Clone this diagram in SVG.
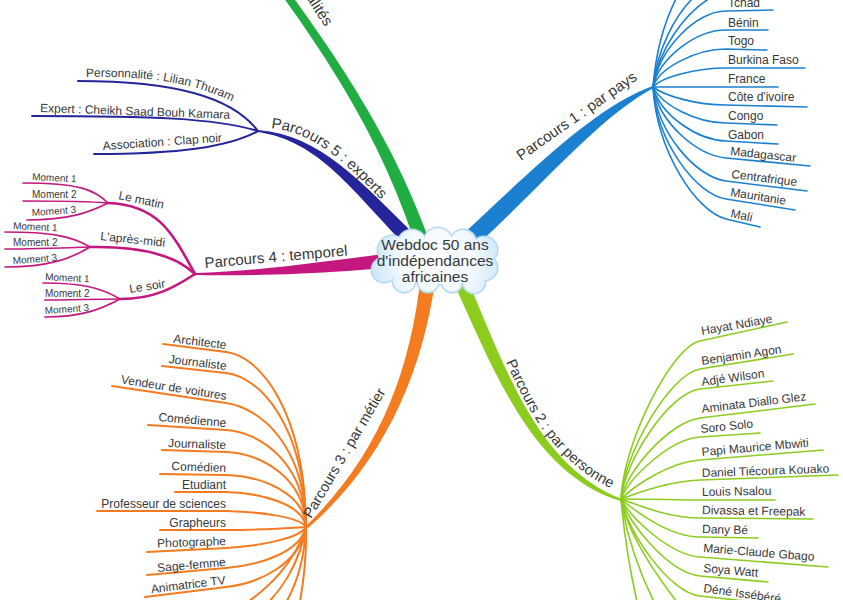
<svg xmlns="http://www.w3.org/2000/svg" width="843" height="600" viewBox="0 0 843 600">
<style>
.t{font-family:"Liberation Sans",Arial,sans-serif;fill:#383838}
.lf{font-size:12px}
.mo{font-size:10px}
.br{font-size:15px}
.ct{font-size:15.5px;text-anchor:middle}
.e{text-anchor:end}
.l{fill:none;stroke-linecap:round}
.lo{stroke:#f47b20;stroke-width:2}
.lg{stroke:#8ccc1f;stroke-width:1.6}
.lb{stroke:#1b80d0;stroke-width:1.6}
.lm{stroke:#c4177f;stroke-width:1.7}
.lms{stroke:#c4177f;stroke-width:2.6}
.ld{stroke:#25259b;stroke-width:2}
</style>
<defs>
<radialGradient id="cg" gradientUnits="userSpaceOnUse" cx="437" cy="262" r="68">
<stop offset="0" stop-color="#ffffff"/><stop offset="0.55" stop-color="#f2f9fe"/><stop offset="1" stop-color="#c9e4f7"/>
</radialGradient>
<g id="cs">
<ellipse cx="437" cy="262" rx="52" ry="22"/>
<circle cx="392" cy="250" r="14"/><circle cx="412" cy="244" r="14"/><circle cx="438" cy="242" r="14"/>
<circle cx="463" cy="243" r="13"/><circle cx="484" cy="250" r="13"/><circle cx="485" cy="268" r="12"/>
<circle cx="474" cy="282" r="11"/><circle cx="452" cy="282" r="10"/><circle cx="428" cy="282" r="10"/>
<circle cx="404" cy="281" r="11"/><circle cx="384" cy="270" r="12"/>
</g>
<path id="tp5" d="M271,128 C320,133 352,170 398,217"/>
<path id="tp2" d="M506,362 C532,420 562,475 640,500"/>
<path id="tpp" d="M86,77 C140,76 195,80 242,107"/>
</defs>
<rect width="843" height="600" fill="#ffffff"/>

<g id="connectors">
<path d="M427.6,235.6 C406,178 374,108 291.2,-5.4 L284.8,-0.6 C366,112 394,182 414.4,240.4 Z" fill="#21ad41"/>
<path d="M257.9,132 C319.7,141 352,191 407,247 L417,237 C361,182 320.3,135 258.1,130 Z" fill="#25259b"/>
<path d="M195,273 C260,271 320,262 384,254 L384,268 C320,274 260,276 195,275 Z" fill="#c4177f"/>
<path d="M435.4,278.9 C422,375.7 382.7,462.9 308,528.1 L306,525.9 C377.3,457.1 410,374.3 420.6,277.1 Z" fill="#f47b20"/>
<path d="M453.6,282.8 C494.5,372.4 533.4,474.7 620.7,501 L621.3,499 C536.6,465.3 505.5,367.6 466.4,277.2 Z" fill="#8ccc1f"/>
<path d="M476,246 C543,185 598,118 653.4,88 L652.6,86 C593,108 529,173 461,236 Z" fill="#1b80d0"/>

<path class="l ld" d="M258,131 C232,97 175,81 78,81"/>
<path class="l ld" d="M258,131 C215,118 150,116 32,116"/>
<path class="l ld" d="M258,131 C228,147 180,154 94,154"/>

<path class="l lms" d="M195,274 C172,232 158,205 108,203"/>
<path class="l lms" d="M195,274 C175,255 140,246 90,247"/>
<path class="l lms" d="M195,274 C175,287 155,299 120,299"/>
<path class="l lm" d="M108,203 C95,190 80,183 23,183"/>
<path class="l lm" d="M108,203 C85,201 60,201 23,201"/>
<path class="l lm" d="M108,203 C90,212 70,220 27,220"/>
<path class="l lm" d="M90,247 C72,236 50,232 5,232"/>
<path class="l lm" d="M90,247 C60,248 30,249 5,249"/>
<path class="l lm" d="M90,247 C72,258 50,267 5,267"/>
<path class="l lm" d="M120,299 C100,287 80,283 43,283"/>
<path class="l lm" d="M120,299 C95,299 70,300 45,300"/>
<path class="l lm" d="M120,299 C100,310 80,317 45,317"/>

<path class="l lo" d="M163,344 L226,352 C261,356 305,413 306,527"/>
<path class="l lo" d="M162,366 L226,373 C261,377 305,427 306,527"/>
<path class="l lo" d="M112,386 L226,403 C261,408 305,446 306,527"/>
<path class="l lo" d="M148,425 L226,430 C261,432 305,464 306,527"/>
<path class="l lo" d="M162,450 L226,452 C261,453 305,478 306,527"/>
<path class="l lo" d="M160,474 L226,475 C261,476 305,493 306,527"/>
<path class="l lo" d="M175,492 L226,492 C261,493 303,504 306,527"/>
<path class="l lo" d="M97,511 L226,511 C261,512 300,517 306,527"/>
<path class="l lo" d="M160,530 L226,530 C261,530 290,528 306,527"/>
<path class="l lo" d="M147,552 L226,548 C261,546 300,538 306,527"/>
<path class="l lo" d="M147,575 L226,568 C261,565 300,552 306,527"/>
<path class="l lo" d="M145,597 L226,587 C261,583 300,563 306,527"/>
<path class="l lo" d="M306,527 C296,560 270,590 232,612"/>
<path class="l lo" d="M306,527 C300,562 282,592 258,612"/>
<path class="l lo" d="M306,527 C304,565 294,592 280,612"/>
<path class="l lo" d="M306,527 C307,565 302,592 298,612"/>

<path class="l lg" d="M621,499 C623,444 671,347 700,341 L787,322"/>
<path class="l lg" d="M621,499 C624,453 670,374 700,369 L793,354"/>
<path class="l lg" d="M621,499 C625,460 670,392 700,389 L773,381"/>
<path class="l lg" d="M621,499 C627,470 670,422 700,418 L815,404"/>
<path class="l lg" d="M621,499 C630,477 670,439 700,437 L760,433"/>
<path class="l lg" d="M621,499 C635,485 670,462 700,460 L823,450"/>
<path class="l lg" d="M621,499 C640,492 670,481 700,480 L838,475"/>
<path class="l lg" d="M621,499 C650,499 680,500 700,500 L775,500"/>
<path class="l lg" d="M621,499 C640,506 670,518 700,518 L813,519"/>
<path class="l lg" d="M621,499 C636,512 670,537 700,537 L758,538"/>
<path class="l lg" d="M621,499 C632,519 670,555 700,557 L828,567"/>
<path class="l lg" d="M621,499 C630,526 670,573 700,576 L768,582"/>
<path class="l lg" d="M621,499 C628,533 670,593 700,596 L790,606"/>
<path class="l lg" d="M621,499 C625,545 632,580 638,606"/>
<path class="l lg" d="M621,499 C627,540 642,578 656,606"/>
<path class="l lg" d="M621,499 C629,538 660,580 680,606"/>

<path class="l lb" d="M653,87 C659,49 696,11 726,11 L773,10"/>
<path class="l lb" d="M653,87 C659,58 696,30 726,30 L768,30"/>
<path class="l lb" d="M653,87 C659,68 696,49 726,49 L767,50"/>
<path class="l lb" d="M653,87 C662,77 696,68 726,68 L805,68"/>
<path class="l lb" d="M653,87 C680,87 700,87 726,87 L778,87"/>
<path class="l lb" d="M653,87 C665,96 696,105 726,105 L807,107"/>
<path class="l lb" d="M653,87 C662,105 696,123 726,123 L777,125"/>
<path class="l lb" d="M653,87 C660,114 696,140 726,141 L778,144"/>
<path class="l lb" d="M653,87 C659,122 696,155 726,158 L810,166"/>
<path class="l lb" d="M653,87 C658,134 696,177 726,181 L807,191"/>
<path class="l lb" d="M653,87 C657,143 696,194 726,199 L795,210"/>
<path class="l lb" d="M653,87 C657,153 697,212 726,219 L760,227"/>
<path class="l lb" d="M653,87 C656,50 665,20 677,-3"/>
<path class="l lb" d="M653,87 C657,50 675,15 694,-3"/>
<path class="l lb" d="M653,87 C658,50 685,12 712,-3"/>
</g>

<g id="n-center">
<use href="#cs" fill="#c9e4f7" stroke="#b3d8f1" stroke-width="3"/>
<use href="#cs" fill="url(#cg)"/>
<text class="t ct" x="435" y="250">Webdoc 50 ans</text>
<text class="t ct" x="435" y="266">d'indépendances</text>
<text class="t ct" x="435" y="282">africaines</text>
</g>

<g id="n-p6"><text class="t br e" transform="translate(325,27) rotate(57)">alités</text></g>
<g id="n-p5"><text class="t br"><textPath href="#tp5">Parcours 5 : experts</textPath></text></g>
<g id="n-p4"><text class="t br" transform="translate(205,268) rotate(-5)">Parcours 4 : temporel</text></g>
<g id="n-p3"><text class="t br" style="font-size:14.5px" transform="translate(311,519) rotate(-59.5)">Parcours 3 : par métier</text></g>
<g id="n-p2"><text class="t br" style="font-size:14.5px"><textPath href="#tp2">Parcours 2 : par personne</textPath></text></g>
<g id="n-p1"><text class="t br" transform="translate(521,161) rotate(-35)">Parcours 1 : par pays</text></g>

<g id="n-p5-leaves">
<g id="n-thuram"><text class="t lf"><textPath href="#tpp">Personnalité : Lilian Thuram</textPath></text></g>
<g id="n-kamara"><text class="t lf" transform="translate(40,112) rotate(2)">Expert : Cheikh Saad Bouh Kamara</text></g>
<g id="n-clap"><text class="t lf" transform="translate(103,150) rotate(-4)">Association : Clap noir</text></g>
</g>

<g id="n-p4-leaves">
<g id="n-matin"><text class="t lf" transform="translate(118,199) rotate(12)">Le matin</text></g>
<g id="n-aprem"><text class="t lf" transform="translate(100,240) rotate(6)">L'après-midi</text></g>
<g id="n-soir"><text class="t lf" transform="translate(130,293) rotate(-9)">Le soir</text></g>
<g id="n-m1"><text class="t mo" transform="translate(32,180) rotate(3)">Moment 1</text></g>
<g id="n-m2"><text class="t mo" transform="translate(32,198)">Moment 2</text></g>
<g id="n-m3"><text class="t mo" transform="translate(32,216) rotate(-4)">Moment 3</text></g>
<g id="n-a1"><text class="t mo" transform="translate(13,229) rotate(3)">Moment 1</text></g>
<g id="n-a2"><text class="t mo" transform="translate(13,246)">Moment 2</text></g>
<g id="n-a3"><text class="t mo" transform="translate(13,264) rotate(-4)">Moment 3</text></g>
<g id="n-s1"><text class="t mo" transform="translate(45,280) rotate(3)">Moment 1</text></g>
<g id="n-s2"><text class="t mo" transform="translate(45,297)">Moment 2</text></g>
<g id="n-s3"><text class="t mo" transform="translate(45,314) rotate(-4)">Moment 3</text></g>
</g>

<g id="n-p3-leaves">
<g id="n-o1"><text class="t lf e" transform="translate(226,349) rotate(7)">Architecte</text></g>
<g id="n-o2"><text class="t lf e" transform="translate(226,370) rotate(7)">Journaliste</text></g>
<g id="n-o3"><text class="t lf e" transform="translate(226,400) rotate(9)">Vendeur de voitures</text></g>
<g id="n-o4"><text class="t lf e" transform="translate(226,427) rotate(5)">Comédienne</text></g>
<g id="n-o5"><text class="t lf e" transform="translate(226,449) rotate(2)">Journaliste</text></g>
<g id="n-o6"><text class="t lf e" transform="translate(226,472) rotate(2)">Comédien</text></g>
<g id="n-o7"><text class="t lf e" transform="translate(226,489)">Etudiant</text></g>
<g id="n-o8"><text class="t lf e" transform="translate(226,508)">Professeur de sciences</text></g>
<g id="n-o9"><text class="t lf e" transform="translate(226,527)">Grapheurs</text></g>
<g id="n-o10"><text class="t lf e" transform="translate(226,545) rotate(-2)">Photographe</text></g>
<g id="n-o11"><text class="t lf e" transform="translate(226,566) rotate(-5)">Sage-femme</text></g>
<g id="n-o12"><text class="t lf e" transform="translate(226,584) rotate(-7)">Animatrice TV</text></g>
</g>

<g id="n-p2-leaves">
<g id="n-g1"><text class="t lf" transform="translate(702,335) rotate(-10)">Hayat Ndiaye</text></g>
<g id="n-g2"><text class="t lf" transform="translate(702,365) rotate(-8.5)">Benjamin Agon</text></g>
<g id="n-g3"><text class="t lf" transform="translate(702,386) rotate(-8)">Adjé Wilson</text></g>
<g id="n-g4"><text class="t lf" transform="translate(702,413) rotate(-7)">Aminata Diallo Glez</text></g>
<g id="n-g5"><text class="t lf" transform="translate(701,433) rotate(-6)">Soro Solo</text></g>
<g id="n-g6"><text class="t lf" transform="translate(702,456) rotate(-5)">Papi Maurice Mbwiti</text></g>
<g id="n-g7"><text class="t lf" transform="translate(702,477) rotate(-2)">Daniel Tiécoura Kouako</text></g>
<g id="n-g8"><text class="t lf" transform="translate(702,496) rotate(-1)">Louis Nsalou</text></g>
<g id="n-g9"><text class="t lf" transform="translate(702,514) rotate(1)">Divassa et Freepak</text></g>
<g id="n-g10"><text class="t lf" transform="translate(702,533) rotate(1.5)">Dany Bé</text></g>
<g id="n-g11"><text class="t lf" transform="translate(703,552) rotate(4.5)">Marie-Claude Gbago</text></g>
<g id="n-g12"><text class="t lf" transform="translate(703,572) rotate(5)">Soya Watt</text></g>
<g id="n-g13"><text class="t lf" transform="translate(703,592) rotate(8)">Déné Issébéré</text></g>
</g>

<g id="n-p1-leaves">
<g id="n-b1"><text class="t lf" x="728" y="7">Tchad</text></g>
<g id="n-b2"><text class="t lf" x="728" y="27">Bénin</text></g>
<g id="n-b3"><text class="t lf" x="728" y="45">Togo</text></g>
<g id="n-b4"><text class="t lf" x="728" y="64">Burkina Faso</text></g>
<g id="n-b5"><text class="t lf" x="728" y="83">France</text></g>
<g id="n-b6"><text class="t lf" x="728" y="101">Côte d'ivoire</text></g>
<g id="n-b7"><text class="t lf" x="728" y="120">Congo</text></g>
<g id="n-b8"><text class="t lf" x="728" y="139">Gabon</text></g>
<g id="n-b9"><text class="t lf" transform="translate(730,155) rotate(6)">Madagascar</text></g>
<g id="n-b10"><text class="t lf" transform="translate(731,178) rotate(7)">Centrafrique</text></g>
<g id="n-b11"><text class="t lf" transform="translate(730,196) rotate(9)">Mauritanie</text></g>
<g id="n-b12"><text class="t lf" transform="translate(730,217) rotate(12)">Mali</text></g>
</g>
</svg>
